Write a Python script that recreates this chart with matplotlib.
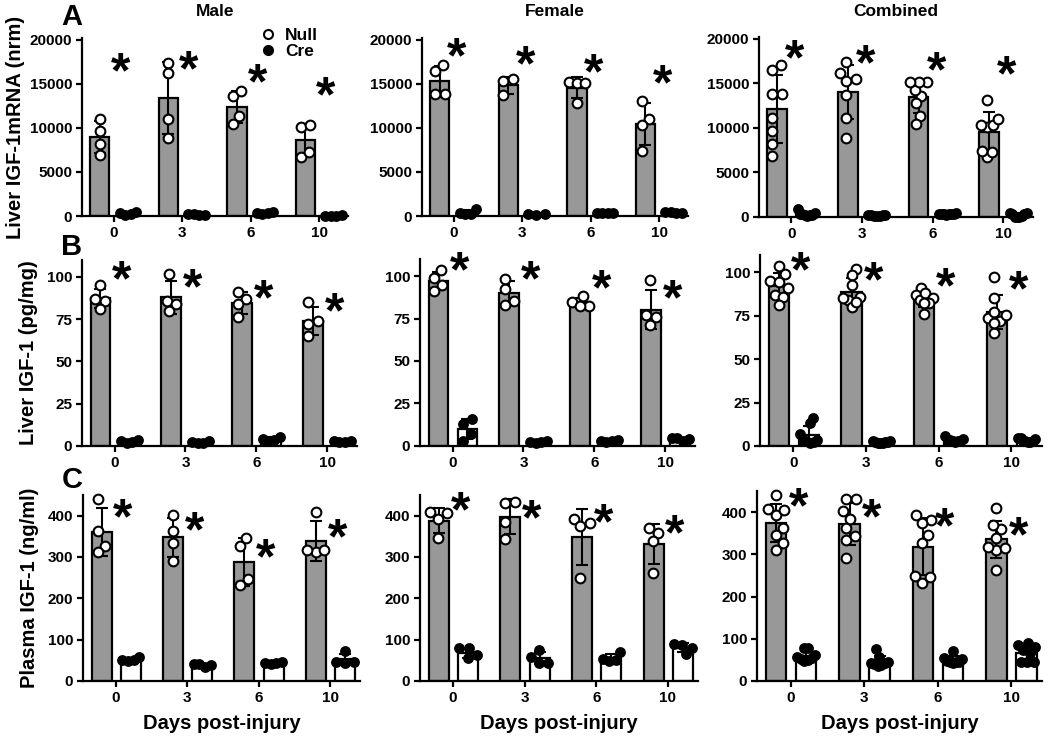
import numpy as np
import matplotlib
matplotlib.use("Agg")
import matplotlib.pyplot as plt
from matplotlib.lines import Line2D

plt.rcParams['font.family'] = ['Liberation Sans', 'DejaVu Sans']
plt.rcParams['font.weight'] = 'bold'

days = ['0', '3', '6', '10']
sexes = ['Male', 'Female', 'Combined']
row_letters = ['A', 'B', 'C']
ylabels = ['Liver IGF-1mRNA (nrm)', 'Liver IGF-1 (pg/mg)', 'Plasma IGF-1 (ng/ml)']
xlabel = 'Days post-injury'

# ---- Row A: liver IGF-1 mRNA ----
mrna_male_null = [[11060, 9660, 8150, 6900], [17400, 16200, 11060, 8900],
                  [13600, 14200, 11300, 10400], [10100, 10300, 6700, 7250]]
mrna_male_cre = [[150, 450, 300, 200], [150, 250, 200, 100],
                 [300, 450, 350, 250], [50, 60, 40, 50]]
mrna_female_null = [[16500, 17100, 13800, 13800], [15500, 15300, 13700],
                    [15200, 15100, 15100, 12800], [13100, 11000, 10300, 7400]]
mrna_female_cre = [[200, 850, 300, 250], [100, 200, 250],
                   [300, 350, 300, 350], [300, 450, 350, 450]]

# ---- Row B: liver IGF-1 protein ----
liver_male_null = [[95, 87, 86, 81], [102, 86, 84, 80],
                   [91, 87, 84, 76], [85, 74, 72, 65]]
liver_male_cre = [[2, 3, 3.5, 2.5], [1.5, 2.5, 3, 2],
                  [3, 5.5, 4, 3.5], [2.5, 3, 3, 2.5]]
liver_female_null = [[98.8, 103.4, 94.5, 90.9], [98.4, 92.5, 85.5, 83],
                     [88, 85, 82.5, 82.5], [97.4, 77, 75.6, 71]]
liver_female_cre = [[13, 16, 3, 7], [2, 2.5, 3, 2.5],
                    [2.5, 3, 3.5, 3], [3, 4.5, 4, 4.5]]

# ---- Row C: plasma IGF-1 ----
plasma_male_null = [[440, 362, 327, 311], [402, 362, 335, 291],
                    [327, 346, 232, 246], [410, 311, 317, 316]]
plasma_male_cre = [[48, 58, 52, 50], [35, 42, 38, 40],
                   [42, 45, 44, 44], [73, 46, 46, 44]]
plasma_female_null = [[408, 393, 406, 345], [430, 432, 384, 343],
                      [382, 393, 374, 248], [359, 369, 339, 262]]
plasma_female_cre = [[79, 79, 62, 55], [75, 58, 44, 43],
                     [70, 54, 52, 48], [90, 86, 80, 66]]

# significance asterisk heights (data units)
ast_mrna = [[17300, 17500, 16000, 14500], [19000, 18100, 17200, 15900], [18700, 18100, 17300, 16800]]
ast_liver = [[103, 98, 91.5, 84], [108, 102.4, 97.4, 91.5], [105.4, 100, 96.5, 94.6]]
ast_plasma = [[415, 382, 317, 366], [432, 412, 402, 376], [432, 406, 384, 363]]

yticks_rows = [[0, 5000, 10000, 15000, 20000], [0, 25, 50, 75, 100], [0, 100, 200, 300, 400]]
ytop_rows = [20200, 110, 450]


def combine(a, b):
    return [list(x) + list(y) for x, y in zip(a, b)]


rows = [
    (mrna_male_null, mrna_male_cre, mrna_female_null, mrna_female_cre, ast_mrna),
    (liver_male_null, liver_male_cre, liver_female_null, liver_female_cre, ast_liver),
    (plasma_male_null, plasma_male_cre, plasma_female_null, plasma_female_cre, ast_plasma),
]

# ---- layout (pixels: left, top, right, bottom) ----
W, H = 1050, 740
boxes = [
    [(82, 38, 348, 216), (422, 38, 688, 216), (759, 37, 1033, 217)],
    [(82, 260, 357, 446), (420, 259, 695, 446), (760, 255, 1042, 446)],
    [(83, 495, 360, 681), (420, 495, 698, 681), (757, 491, 1042, 681)],
]
GRAY = '#989898'
fig = plt.figure(figsize=(10.5, 7.4), dpi=100)


def add_ax(box):
    l, t, r, b = box
    return fig.add_axes([l / W, 1 - b / H, (r - l) / W, (b - t) / H])


def swarm_x(ax, xc, ys, d, max_off):
    pts = ax.transData.transform(np.column_stack([np.full(len(ys), xc), ys]))
    ypix = pts[:, 1]
    ux = ax.transData.transform((1, 0))[0] - ax.transData.transform((0, 0))[0]
    order = np.argsort(ypix)
    placed = []
    off = np.zeros(len(ys))
    for i in order:
        y = ypix[i]
        cands = [0.0]
        for (px, py) in placed:
            dy = y - py
            if abs(dy) < d:
                dx = np.sqrt(d * d - dy * dy)
                cands += [px + dx, px - dx]
        cands = sorted(cands, key=lambda c: (abs(c), -c))
        chosen = cands[0]
        for c in cands:
            if all((c - px) ** 2 + (y - py) ** 2 >= d * d - 1e-6 for px, py in placed):
                chosen = c
                break
        placed.append((chosen, y))
        off[i] = chosen
    off = off / ux
    if off.size and np.max(np.abs(off)) > 0:
        lo, hi = off.min(), off.max()
        off = off - (lo + hi) / 2 if (hi - lo) > 0 else off
        span = np.max(np.abs(off))
        if span > max_off:
            off = off * max_off / span
    return xc + off


pos = np.arange(len(days))
for r, (mn, mc, fn, fc, asts) in enumerate(rows):
    groups = [(mn, mc), (fn, fc), (combine(mn, fn), combine(mc, fc))]
    for c, (null, cre) in enumerate(groups):
        ax = add_ax(boxes[r][c])
        ax.set_xlim(-0.46, 3.42)
        ax.set_ylim(0, ytop_rows[r])
        for s in ['top', 'right']:
            ax.spines[s].set_visible(False)
        for s in ['left', 'bottom']:
            ax.spines[s].set_linewidth(1.6)
        ax.set_xticks(pos)
        ax.set_xticklabels(days)
        ax.set_yticks(yticks_rows[r])
        ax.tick_params(direction='out', length=4.5, width=1.6, labelsize=11, pad=2.5)

        for data, off, fill, mfc, ms in [(null, -0.2, GRAY, 'white', 7), (cre, 0.21, 'white', 'black', 6.3)]:
            means = np.array([np.mean(v) for v in data])
            sds = np.array([np.std(v, ddof=1) for v in data])
            ax.bar(pos + off, means, 0.28, color=fill, edgecolor='black', linewidth=1.6, zorder=1)
            ax.errorbar(pos + off, means, yerr=sds, fmt='none', ecolor='black',
                        elinewidth=1.5, capsize=4.5, capthick=1.5, zorder=2)
            for i, v in enumerate(data):
                xs = swarm_x(ax, pos[i] + off, np.array(v, float), 10.0, 0.12)
                ax.plot(xs, v, 'o', ms=ms, mfc=mfc, mec='black', mew=1.5,
                        ls='none', zorder=3, clip_on=False)

        dx = 0.05 if (r == 0 and c > 0) else 0.1
        for i, h in enumerate(asts[c]):
            ax.annotate('*', (pos[i] + dx, h), xytext=(0, -0.47 * 36), textcoords='offset points',
                        ha='center', va='baseline', fontsize=36, fontweight='bold', annotation_clip=False)

        l, t, rr, b = boxes[r][c]
        if r == 0:
            fig.text((l + rr) / 2 / W, 1 - 12 / H, sexes[c], ha='center', va='center',
                     fontsize=12.5, fontweight='bold')
        if r == 2:
            fig.text((l + rr) / 2 / W, 1 - 729 / H, xlabel, ha='center', va='baseline',
                     fontsize=14.5, fontweight='bold')
        if r == 0 and c == 0:
            h1 = Line2D([], [], marker='o', ls='none', ms=6.5, mfc='white', mec='black', mew=1.5)
            h2 = Line2D([], [], marker='o', ls='none', ms=6.5, mfc='black', mec='black', mew=1.5)
            fig.legend([h1, h2], ['Null', 'Cre'], loc='upper left',
                       bbox_to_anchor=(259 / W, 1 - 28 / H), frameon=False,
                       borderpad=0, borderaxespad=0, handlelength=1.0, handletextpad=0.5,
                       labelspacing=0.05, prop={'size': 12.5, 'weight': 'bold'})

# y labels and panel letters
ylab_pos = [(16, 127), (29, 353), (30, 588)]
letter_pos = [(72, 17), (72, 247), (72, 480)]
for r in range(3):
    x, y = ylab_pos[r]
    fig.text(x / W, 1 - y / H, ylabels[r], rotation=90, ha='center', va='center',
             fontsize=14.5, fontweight='bold')
    x, y = letter_pos[r]
    fig.text(x / W, 1 - y / H, row_letters[r], ha='center', va='center',
             fontsize=21, fontweight='bold')

fig.savefig('out.png', dpi=100)
